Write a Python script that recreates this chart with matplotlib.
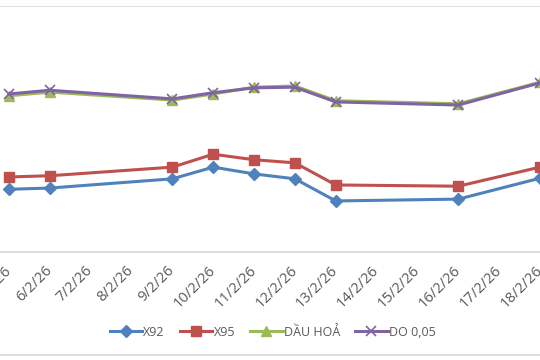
import matplotlib
matplotlib.use("Agg")
import matplotlib.pyplot as plt
from matplotlib.lines import Line2D

plt.rcParams['font.family'] = ['Open Sans', 'DejaVu Sans']

# days of February 2026 shown on the axis
days = list(range(5, 19))
labels = ["%d/2/26" % d for d in days]

# trading days that have prices
price_days = [5, 6, 9, 10, 11, 12, 13, 16, 18]
x92 = [70.2, 70.4, 71.9, 73.8, 72.7, 71.9, 68.3, 68.6, 72.0]
x95 = [72.2, 72.4, 73.8, 75.9, 75.0, 74.5, 70.9, 70.7, 73.8]
dau_hoa = [85.4, 86.0, 84.7, 85.7, 86.8, 87.0, 84.6, 84.1, 87.6]
do_005 = [85.7, 86.3, 84.9, 85.9, 86.7, 86.8, 84.4, 83.9, 87.5]

series = [
    ("X92", x92, "#4F81BD", "D", 6),
    ("X95", x95, "#C0504D", "s", 6.5),
    ("DẦU HOẢ", dau_hoa, "#9BBB59", "^", 7),
    ("DO 0,05", do_005, "#8064A2", "x", 7),
]

fig = plt.figure(figsize=(5.4, 3.6), dpi=100)
ax = fig.add_axes([0.0, 0.30, 1.0, 0.6833])

xs = [d - 5 for d in price_days]
for name, vals, col, mk, ms in series:
    if mk == "x":
        ax.plot(xs, vals, color=col, lw=2.2, marker=mk, ms=ms, mew=1.2,
                label=name, zorder=3)
    else:
        ax.plot(xs, vals, color=col, lw=2.2, marker=mk, ms=ms, mec=col,
                label=name, zorder=3)

ax.set_xlim(-0.22, 12.98)
ax.set_ylim(60, 100)
ax.set_xticks([d - 5 for d in days])
ax.set_xticklabels(labels, rotation=45, ha="right", va="center",
                   rotation_mode="anchor", color="#595959", fontsize=10.5)
ax.tick_params(axis="x", length=0, pad=12)
ax.set_yticks([60, 100])
ax.tick_params(axis="y", length=0, labelleft=False)
ax.yaxis.grid(True, color="#D9D9D9", lw=1.2)
ax.set_axisbelow(True)
for s in ["top", "left", "right"]:
    ax.spines[s].set_visible(False)
ax.spines["bottom"].set_color("#D9D9D9")
ax.spines["bottom"].set_linewidth(1.2)

leg = fig.legend(loc="center", bbox_to_anchor=(0.505, 0.077), ncol=4,
                 frameon=False, fontsize=9, handlelength=2.6,
                 columnspacing=1.2, handletextpad=0.1)
for t in leg.get_texts():
    t.set_color("#595959")

fig.add_artist(Line2D([0, 1], [0.0139, 0.0139], color="#D9D9D9", lw=1.2,
                      transform=fig.transFigure))

fig.savefig("out.png", dpi=100)
